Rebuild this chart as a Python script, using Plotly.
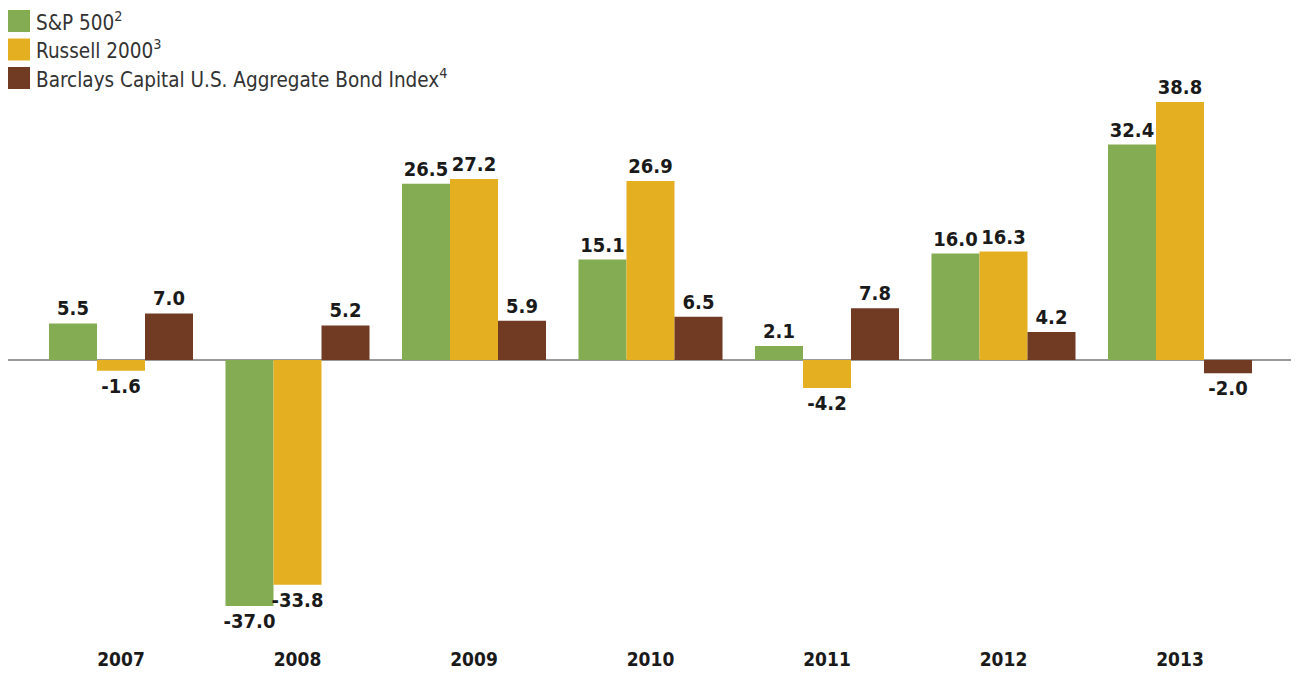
import plotly.graph_objects as go

years = ["2007", "2008", "2009", "2010", "2011", "2012", "2013"]
sp500 = [5.5, -37.0, 26.5, 15.1, 2.1, 16.0, 32.4]
russell = [-1.6, -33.8, 27.2, 26.9, -4.2, 16.3, 38.8]
barclays = [7.0, 5.2, 5.9, 6.5, 7.8, 4.2, -2.0]

series_names = ["S&P 500<sup>2</sup>", "Russell 2000<sup>3</sup>",
                "Barclays Capital U.S. Aggregate Bond Index<sup>4</sup>"]
colors = ["#84AC52", "#E4B021", "#703B22"]

# page body has an 8px margin; figure coordinates are screen - 8
OFF = 8
W, H = 1299, 673 - OFF
ML, MR, MT, MB = 0, 0, 0, 27
PW, PH = W - ML - MR, H - MT - MB

FONT = "Liberation Sans Narrow, DejaVu Sans Condensed, Arial Narrow, sans-serif"

fig = go.Figure()
for name, vals, col in zip(series_names, [sp500, russell, barclays], colors):
    fig.add_trace(go.Bar(
        x=years, y=vals, name=name, marker=dict(color=col, line=dict(width=0)),
        text=[f"{v:.1f}" for v in vals], textposition="outside",
        constraintext="none",
        textfont=dict(family=FONT, size=20, color="#1a1a1a", weight="bold"),
        cliponaxis=False, showlegend=False,
    ))

px_per_unit = 6.65
zero_y = 360 - OFF
y_top = (zero_y - MT) / px_per_unit
y_bot = -(MT + PH - zero_y) / px_per_unit
step = 176.5
c0 = 121 - OFF
x_left = (ML - c0) / step
x_right = (W - MR - c0) / step

fig.update_layout(
    width=W, height=H, margin=dict(l=ML, r=MR, t=MT, b=MB),
    paper_bgcolor="white", plot_bgcolor="white",
    barmode="group", bargap=0.184, bargroupgap=0,
    xaxis=dict(type="category", range=[x_left, x_right], showgrid=False,
               showline=False, ticks="",
               tickfont=dict(family=FONT, size=19, color="#1a1a1a", weight="bold")),
    yaxis=dict(range=[y_bot, y_top], showgrid=False, showticklabels=False,
               zeroline=True, zerolinecolor="#9a9a9a", zerolinewidth=1.5),
)

# manual legend
for i, (name, col) in enumerate(zip(series_names, colors)):
    top = 10 - OFF + i * 28.5
    fig.add_shape(type="rect", xref="paper", yref="paper",
                  x0=0, x1=22 / PW,
                  y0=1 - (top + 22 - MT) / PH, y1=1 - (top - MT) / PH,
                  fillcolor=col, line=dict(width=0), layer="above")
    fig.add_annotation(xref="paper", yref="paper",
                       x=(37 - OFF - ML) / PW, y=1 - (top + 11 - MT) / PH,
                       text=name, showarrow=False, xanchor="left", yanchor="middle",
                       xshift=-3,
                       font=dict(family=FONT, size=20.5, color="#333333"))

fig.write_html("out.html")
